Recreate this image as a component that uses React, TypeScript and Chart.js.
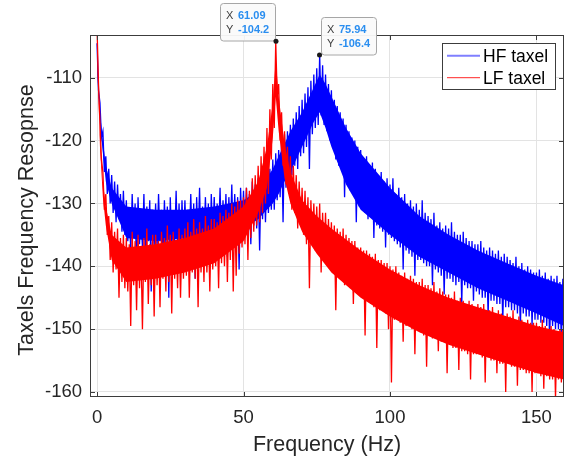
import React, { useEffect, useRef } from 'react';
import { Chart, registerables } from 'chart.js';

Chart.register(...registerables);

// Spectrum bins are spaced FREQ_STEP Hz apart, starting at 0 Hz
const FREQ_STEP = 0.5;

// HF taxel response (dB), one value per bin, 0 .. 159.5 Hz
const HF_TAXEL = [
  -104.5, -112, -114, -119.5, -118.5, -125, -122.5, -128.5, -124.5, -130, -125.5, -131.5, -126.5, -133, -127, -132.5, -128.5, -134.5, -128, -135,
  -129.5, -136, -131, -137.5, -128.5, -135.5, -130, -141, -129, -136.5, -131.5, -137, -128.5, -138, -130.5, -136, -129.5, -144, -131, -137,
  -130, -137, -128.5, -136, -131, -138.5, -129.5, -136.5, -130.5, -145, -129, -137, -131.5, -136, -128, -137.5, -130, -139, -129.5, -136.5,
  -129.5, -136.5, -131, -135.5, -128.5, -137, -130, -142, -129, -136, -127.5, -137.5, -130.5, -135.5, -129, -136.5, -130, -139.5, -128.5, -135.5,
  -129, -136, -130, -135, -127.5, -137, -129.5, -135.5, -128.5, -138.5, -129, -135, -127, -136.5, -128.5, -135, -129, -140.5, -127.5, -134.5,
  -128, -135, -127.5, -134, -128.5, -136.5, -126.5, -133.5, -127, -134, -126, -137.5, -125.5, -132.5, -125, -133, -124, -131.5, -124.5, -131,
  -123, -131, -122, -129.5, -121.5, -129, -120, -133, -119, -127.5, -118.5, -126, -117.5, -125.5, -116.5, -124, -115.5, -124.5, -114.5, -122.5,
  -113.5, -122, -112.5, -121, -111.5, -124.5, -110.5, -119, -109.5, -118, -108.5, -117.5, -106.4, -116, -108, -117.5, -109.5, -118.5, -111, -120,
  -112, -121, -113.5, -123, -114.5, -124, -115.5, -124.5, -116.5, -129, -117.5, -127, -118.5, -128, -119.5, -128.5, -120, -133, -121, -130.5,
  -121.5, -131, -123, -131.5, -122.5, -132.5, -124, -132, -123.5, -135.5, -124.5, -133.5, -125.5, -134, -125, -134.5, -126.5, -137, -126, -135,
  -127, -135.5, -126, -136, -128.5, -136.5, -127.5, -137, -129, -140.5, -128.5, -137.5, -130, -138, -129.5, -138.5, -130.5, -141.5, -130, -139,
  -131, -139, -129.5, -139.5, -131.5, -140, -132, -140, -132.5, -143, -131.5, -140.5, -133.5, -141, -133, -141.5, -134, -144.5, -133.5, -142,
  -134, -142, -133, -142.5, -134.5, -143, -135, -142.5, -135, -146, -134.5, -143, -135.5, -143.5, -136, -143.5, -136, -145.5, -136.5, -144,
  -136.5, -144.5, -136, -145, -137, -145, -137.5, -148, -137, -145.5, -137.5, -145.5, -138, -146, -137.5, -146, -138.5, -149, -138, -146.5,
  -138.5, -146.5, -139, -147, -139.5, -147, -138.5, -147.5, -140, -150, -139.5, -147.5, -140.5, -148, -140, -148, -140.5, -149.5, -141, -148.5,
  -141, -148.5, -140.5, -149, -141.5, -149, -141, -149.5, -142, -152, -141.5, -149.5, -142, -150, -141.5, -150, -142.5, -152.5, -142, -150.5,
];

// LF taxel response (dB), one value per bin, 0 .. 159.5 Hz
const LF_TAXEL = [
  -102, -111, -117, -123, -125, -131, -128.5, -135, -132, -139, -133, -141, -134.5, -140.5, -134, -145, -135.5, -142.5, -135, -143.5,
  -135.5, -144, -136.5, -149.5, -134.5, -143, -136, -147, -135, -143.5, -137, -150, -135.5, -142.5, -134, -146, -136.5, -143, -135, -148,
  -135, -143, -136, -146.5, -134.5, -142, -135.5, -144, -133.5, -142.5, -135, -147.5, -134.5, -142, -136, -143.5, -134, -145, -135, -142,
  -134, -141.5, -133, -145, -134.5, -141, -132.5, -142, -134, -146.5, -133, -141, -134, -142.5, -132, -141, -133.5, -144, -132.5, -140.5,
  -132.5, -140, -133, -143.5, -131.5, -139.5, -132, -140, -131, -142.5, -131.5, -139, -130, -144, -130.5, -141.5, -129.5, -138, -129.5, -137,
  -129, -136.5, -127.5, -139, -128, -135.5, -126, -134.5, -125.5, -133.5, -124, -133, -122.5, -131.5, -121, -130, -118, -128.5, -115, -123,
  -111, -118, -104.2, -113, -111, -120, -115.5, -124, -118.5, -127, -121, -128.5, -122.5, -131, -124, -131.5, -125.5, -134, -126.5, -133.5,
  -127.5, -135, -128, -136.5, -129, -143.5, -129.5, -136.5, -130, -137.5, -130.5, -138, -130, -141, -131.5, -138.5, -131.5, -139.5, -132.5, -140,
  -133, -141, -133.5, -147, -134, -141.5, -134.5, -142, -134, -143, -135, -142.5, -135.5, -143.5, -136, -146, -136, -144, -137, -144.5,
  -137, -145, -137.5, -151, -137.5, -145.5, -138, -146, -138.5, -146.5, -138, -153, -139, -147, -139, -147, -139.5, -147.5, -139.5, -150,
  -140, -158.5, -140.5, -148.5, -140, -148.5, -141, -149, -141.5, -152, -141, -149.5, -142, -149.5, -141.5, -150, -142, -154, -142.5, -150,
  -142.5, -150.5, -142, -151, -143, -156, -143, -151, -143.5, -151.5, -142.5, -151.5, -144, -153.5, -143.5, -152, -144, -152, -144.5, -157,
  -144.5, -152.5, -145, -153, -144, -153, -145.5, -156.5, -145, -153.5, -145.5, -153.5, -146, -154, -145.5, -158, -146, -154, -146.5, -154,
  -146, -154, -146.5, -154.5, -146, -158.5, -147, -154.5, -147, -155, -146.5, -155, -147.5, -157, -147, -155.5, -147.5, -155.5, -148, -160,
  -147.5, -155.5, -148, -156, -147, -156, -148.5, -159, -148, -156.5, -148.5, -156.5, -149, -157, -148.5, -157, -149, -160, -149, -157,
  -149, -157, -149.5, -157.5, -148.5, -159.5, -149.5, -157.5, -150, -158, -149.5, -158, -150, -161, -150.5, -158, -150, -158.5, -150, -161,
];

// Dense (saturated) core of each noisy trace
const HF_CORE_FREQ = [0, 1, 2, 3, 5, 10, 20, 30, 40, 50, 55, 58, 60, 62, 64, 66, 70, 72, 74, 76, 78, 80, 85, 90, 100, 110, 120, 130, 140, 150, 159.4];
const HF_CORE_TOP = [-106, -115.5, -120, -124, -127.5, -130.5, -131, -131, -130.5, -129.5, -128, -126, -124.5, -122.5, -120.5, -118.5, -115.5, -113.5, -111.5, -109.5, -111, -113, -118, -122, -127.5, -132, -135, -137.5, -139.5, -141.5, -143];
const HF_CORE_BOTTOM = [-108, -117.5, -122, -126.5, -130, -135.5, -136, -135.5, -135, -134, -132.5, -131, -130, -128.5, -126.5, -125, -121, -119, -117, -115.5, -118, -121, -127, -131, -135, -138.5, -141, -143.5, -145.5, -147.5, -149.5];

const LF_CORE_FREQ = [0, 1, 2, 3, 5, 10, 20, 30, 40, 50, 55, 58, 60, 61, 62, 64, 66, 70, 75, 80, 90, 100, 110, 120, 130, 140, 150, 159.4];
const LF_CORE_TOP = [-104, -119, -126.5, -130.5, -135, -137, -136.5, -135.5, -134, -130.5, -126.5, -121, -114, -107, -113, -120.5, -125, -129.5, -132, -134, -137.5, -140.5, -143, -145, -146.5, -148, -149.5, -150.5];
const LF_CORE_BOTTOM = [-106, -121, -129, -133.5, -139, -142.5, -142, -141, -139.5, -136, -131.5, -127.5, -119.5, -113, -118.5, -126, -130, -134.5, -138, -141, -145, -148, -150.5, -152.5, -154, -155.5, -157, -158];

const SERIES_NAMES = ['HF taxel', 'LF taxel'];
const X_TICKS = [0, 50, 100, 150];
const Y_TICKS = [-160, -150, -140, -130, -120, -110];
const X_MIN = -2.4;
const X_MAX = 159.4;
const Y_MIN = -160.8;
const Y_MAX = -103.2;
const X_TITLE = 'Frequency (Hz)';
const Y_TITLE = 'Taxels Frequency Resopnse';
const TIP_X = [61.09, 75.94];
const TIP_Y = [-104.2, -106.4];
const TIP_SIDE = ['left', 'right'];

const FONT = "'Liberation Sans', Arial, Helvetica, sans-serif";
const TEXT = '#262626';
const BLUE = '#0000ff';
const RED = '#ff0000';

const toPoints = (vals: number[]) => vals.map((y, i) => ({ x: i * FREQ_STEP, y }));
const toXY = (xs: number[], ys: number[]) => xs.map((x, i) => ({ x, y: ys[i] }));

const decorPlugin = {
  id: 'matlabDecor',
  afterDraw(chart: any) {
    const { ctx, chartArea: a, scales } = chart;
    const xs = scales.x;
    const ys = scales.y;
    ctx.save();

    // axes box
    ctx.strokeStyle = '#3c3c3c';
    ctx.lineWidth = 1;
    ctx.strokeRect(a.left + 0.5, a.top + 0.5, a.right - a.left - 1, a.bottom - a.top - 1);

    // inward ticks
    ctx.beginPath();
    Y_TICKS.forEach((v) => {
      const py = Math.round(ys.getPixelForValue(v)) + 0.5;
      ctx.moveTo(a.left, py);
      ctx.lineTo(a.left + 5, py);
      ctx.moveTo(a.right, py);
      ctx.lineTo(a.right - 5, py);
    });
    X_TICKS.forEach((v) => {
      const px = Math.round(xs.getPixelForValue(v)) + 0.5;
      ctx.moveTo(px, a.bottom);
      ctx.lineTo(px, a.bottom - 5);
      ctx.moveTo(px, a.top);
      ctx.lineTo(px, a.top + 5);
    });
    ctx.stroke();

    // axis titles
    ctx.fillStyle = TEXT;
    ctx.font = `21.5px ${FONT}`;
    ctx.textAlign = 'center';
    ctx.textBaseline = 'alphabetic';
    ctx.fillText(X_TITLE, (a.left + a.right) / 2, 451);
    ctx.save();
    ctx.translate(33, (a.top + a.bottom) / 2 + 4);
    ctx.rotate(-Math.PI / 2);
    ctx.fillText(Y_TITLE, 0, 0);
    ctx.restore();

    // legend
    const lw = 113;
    const lh = 46;
    const lx = a.right - 9 - lw;
    const ly = a.top + 8;
    ctx.fillStyle = '#ffffff';
    ctx.fillRect(lx, ly, lw, lh);
    ctx.strokeStyle = '#3c3c3c';
    ctx.lineWidth = 1;
    ctx.strokeRect(Math.round(lx) + 0.5, Math.round(ly) + 0.5, lw, lh);
    const colors = [BLUE, RED];
    const rows = [ly + 12.7, ly + 34.7];
    SERIES_NAMES.forEach((name, i) => {
      ctx.strokeStyle = colors[i];
      ctx.globalAlpha = i === 0 ? 0.5 : 0.85;
      ctx.lineWidth = i === 0 ? 2 : 1;
      ctx.beginPath();
      ctx.moveTo(lx + 5, rows[i]);
      ctx.lineTo(lx + 38, rows[i]);
      ctx.stroke();
      ctx.globalAlpha = 1;
      ctx.fillStyle = '#000000';
      ctx.font = `17.5px ${FONT}`;
      ctx.textAlign = 'left';
      ctx.textBaseline = 'middle';
      ctx.fillText(name, lx + 41, rows[i] + 1.5);
    });

    // data tips
    TIP_X.forEach((tx, i) => {
      const px = xs.getPixelForValue(tx);
      const py = ys.getPixelForValue(TIP_Y[i]);
      const bw = 55;
      const bh = 37.5;
      const bx = TIP_SIDE[i] === 'left' ? px - 1 - bw : px + 1.4;
      const by = py - 1 - bh;
      ctx.fillStyle = 'rgba(250,250,250,0.95)';
      ctx.strokeStyle = '#a6a6a6';
      ctx.lineWidth = 1;
      ctx.beginPath();
      ctx.roundRect(Math.round(bx) + 0.5, Math.round(by) + 0.5, bw, bh, 3);
      ctx.fill();
      ctx.stroke();
      ctx.textAlign = 'left';
      ctx.textBaseline = 'alphabetic';
      ctx.font = `11px ${FONT}`;
      ctx.fillStyle = '#404040';
      ctx.fillText('X', bx + 6, by + 16);
      ctx.fillText('Y', bx + 6, by + 30);
      ctx.font = `bold 11px ${FONT}`;
      ctx.fillStyle = '#2a8ef0';
      ctx.fillText(tx.toFixed(2), bx + 18, by + 16);
      ctx.fillText(TIP_Y[i].toFixed(1), bx + 18, by + 30);
      ctx.fillStyle = '#1a1a1a';
      ctx.beginPath();
      ctx.arc(px, py, 2.5, 0, Math.PI * 2);
      ctx.fill();
    });

    ctx.restore();
  },
};

export default function App() {
  const ref = useRef<HTMLCanvasElement | null>(null);

  useEffect(() => {
    document.body.style.margin = '0';
    const canvas = ref.current;
    if (!canvas) return;
    const tickFont = { family: FONT, size: 18.5 };
    const coreStyle = { borderWidth: 0, pointRadius: 0, tension: 0 };
    const chart = new Chart(canvas, {
      type: 'line',
      data: {
        datasets: [
          {
            label: 'HF core top',
            data: toXY(HF_CORE_FREQ, HF_CORE_TOP),
            ...coreStyle,
            borderColor: BLUE,
            backgroundColor: BLUE,
            fill: '+1',
            order: 4,
          },
          {
            label: 'HF core bottom',
            data: toXY(HF_CORE_FREQ, HF_CORE_BOTTOM),
            ...coreStyle,
            borderColor: BLUE,
            fill: false,
            order: 4,
          },
          {
            label: SERIES_NAMES[0],
            data: toPoints(HF_TAXEL),
            borderColor: BLUE,
            borderWidth: 1.3,
            pointRadius: 0,
            tension: 0,
            fill: false,
            order: 3,
          },
          {
            label: 'LF core top',
            data: toXY(LF_CORE_FREQ, LF_CORE_TOP),
            ...coreStyle,
            borderColor: RED,
            backgroundColor: RED,
            fill: '+1',
            order: 2,
          },
          {
            label: 'LF core bottom',
            data: toXY(LF_CORE_FREQ, LF_CORE_BOTTOM),
            ...coreStyle,
            borderColor: RED,
            fill: false,
            order: 2,
          },
          {
            label: SERIES_NAMES[1],
            data: toPoints(LF_TAXEL),
            borderColor: RED,
            borderWidth: 1.3,
            pointRadius: 0,
            tension: 0,
            fill: false,
            order: 1,
          },
        ],
      },
      options: {
        animation: false,
        responsive: false,
        maintainAspectRatio: false,
        events: [],
        layout: { padding: { top: 35, right: 7, left: 0, bottom: 0 } },
        plugins: {
          legend: { display: false },
          tooltip: { enabled: false },
          title: { display: false },
          filler: { drawTime: 'beforeDatasetDraw' },
        },
        scales: {
          x: {
            type: 'linear',
            min: X_MIN,
            max: X_MAX,
            afterBuildTicks: (s: any) => {
              s.ticks = X_TICKS.map((v) => ({ value: v }));
            },
            afterFit: (s: any) => {
              s.height = 59;
            },
            border: { display: false },
            grid: { color: '#e3e3e3', drawTicks: false, lineWidth: 1 },
            ticks: {
              color: TEXT,
              font: tickFont,
              padding: 9.5,
              maxRotation: 0,
              autoSkip: false,
            },
          },
          y: {
            type: 'linear',
            min: Y_MIN,
            max: Y_MAX,
            afterBuildTicks: (s: any) => {
              s.ticks = Y_TICKS.map((v) => ({ value: v }));
            },
            afterFit: (s: any) => {
              s.width = 90;
            },
            border: { display: false },
            grid: { color: '#e3e3e3', drawTicks: false, lineWidth: 1 },
            ticks: {
              color: TEXT,
              font: tickFont,
              padding: 8,
              autoSkip: false,
            },
          },
        },
      },
      plugins: [decorPlugin],
    } as any);
    return () => chart.destroy();
  }, []);

  return (
    <div style={{ width: 571, height: 456, background: '#ffffff' }}>
      <canvas ref={ref} width={571} height={456} style={{ display: 'block', width: 571, height: 456 }} />
    </div>
  );
}
